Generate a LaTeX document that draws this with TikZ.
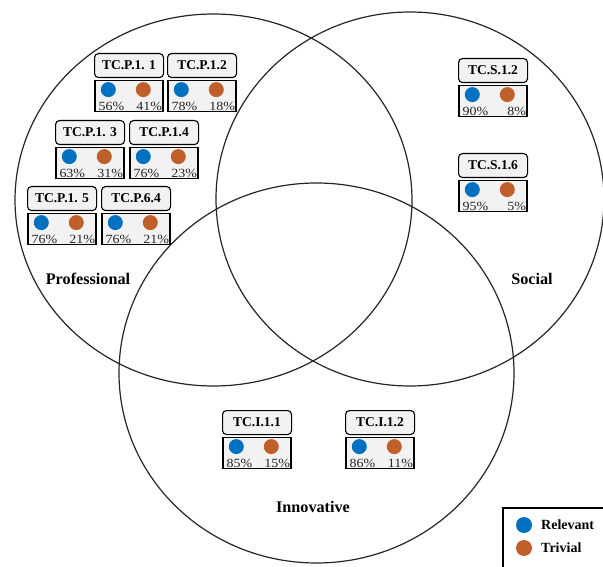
\documentclass[tikz,border=0pt]{standalone}
\usepackage{fontspec}
\setmainfont{Liberation Serif}
\newfontfamily\pctf[FakeStretch=1.12]{Liberation Serif}
\definecolor{relblue}{RGB}{0,112,192}
\definecolor{trivor}{RGB}{191,96,42}
\definecolor{boxfill}{RGB}{242,242,242}
\tikzset{
  vennc/.style={draw=black!85, line width=1.2pt},
  hdr/.style={draw=black, line width=1.1pt, fill=boxfill, rounded corners=4pt,
    minimum width=69pt, minimum height=24pt, inner sep=0pt,
    font=\fontsize{13.5}{15}\selectfont\bfseries},
  bdy/.style={draw=black, line width=1.5pt, fill=boxfill,
    minimum width=68pt, minimum height=31pt, inner sep=0pt},
  rdot/.style={circle, fill=relblue, minimum size=15pt, inner sep=0pt},
  tdot/.style={circle, fill=trivor, minimum size=15pt, inner sep=0pt},
  pct/.style={inner sep=0pt, font=\pctf\fontsize{12.5}{13}\selectfont, text=black!85},
  setlbl/.style={font=\fontsize{16.2}{18}\selectfont\bfseries},
  leglbl/.style={font=\fontsize{14}{16}\selectfont\bfseries, anchor=west, inner sep=0pt}
}
\newcommand\tcbx[6]{%
  \node[hdr, anchor=north west] (#1h) at (#2,#3) {#4};
  \node[bdy, anchor=north] (#1b) at ([yshift=-1.5pt]#1h.south) {};
  \node[rdot] (#1r) at ([xshift=14pt,yshift=-10pt]#1b.north west) {};
  \node[tdot] (#1t) at ([xshift=49pt,yshift=-10pt]#1b.north west) {};
  \node[pct, anchor=base west] (#1p) at ([xshift=4pt,yshift=2pt]#1b.south west) {#5};
  \node[pct, anchor=base east] (#1q) at ([xshift=-1.5pt,yshift=2pt]#1b.south east) {#6};
}
\begin{document}
\begin{tikzpicture}[x=1pt,y=-1pt]
\useasboundingbox (0,0) rectangle (603,567);
\fill[white] (0,0) rectangle (603,567);
% Venn circles
\draw[vennc] (213.5,200) ellipse [x radius=198.5pt, y radius=186pt];
\draw[vennc] (410,199) ellipse [x radius=194pt, y radius=187pt];
\draw[vennc] (316.5,373) ellipse [x radius=197.5pt, y radius=190pt];
% boxes
\tcbx{p11}{94}{53}{TC.P.1. 1}{56\%}{41\%}
\tcbx{p12}{167}{53}{TC.P.1.2}{78\%}{18\%}
\tcbx{p13}{55}{120}{TC.P.1. 3}{63\%}{31\%}
\tcbx{p14}{129}{120}{TC.P.1.4}{76\%}{23\%}
\tcbx{p15}{27}{186}{TC.P.1. 5}{76\%}{21\%}
\tcbx{p64}{101}{186}{TC.P.6.4}{76\%}{21\%}
\tcbx{s12}{458}{58}{TC.S.1.2}{90\%}{8\%}
\tcbx{s16}{458}{153}{TC.S.1.6}{95\%}{5\%}
\tcbx{i11}{222}{410}{TC.I.1.1}{85\%}{15\%}
\tcbx{i12}{345}{410}{TC.I.1.2}{86\%}{11\%}
% set labels
\node[setlbl] (lprof) at (88,279) {Professional};
\node[setlbl] (lsoc) at (532,279) {Social};
\node[setlbl] (linn) at (313,507) {Innovative};
% legend
\draw[line width=1.2pt, fill=white] (503,508) rectangle (612,578);
\node[rdot, minimum size=16pt] (legr) at (524,525) {};
\node[tdot, minimum size=16pt] (legt) at (524,548) {};
\node[leglbl] (legrt) at (541,525) {Relevant};
\node[leglbl] (legtt) at (541,548) {Trivial};
\end{tikzpicture}
\end{document}
